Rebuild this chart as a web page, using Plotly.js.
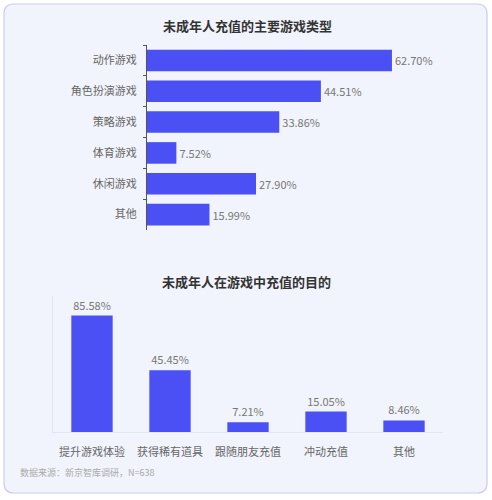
<!DOCTYPE html>
<html>
<head>
<meta charset="utf-8">
<script src="https://cdn.plot.ly/plotly-3.0.1.min.js"></script>
<style>
  body { margin: 0; background: #fff; }
  #chart { width: 492px; height: 500px; }
</style>
</head>
<body>
<div id="chart"></div>
<script>
// chart 1: game types
var typeNames = ["动作游戏", "角色扮演游戏", "策略游戏", "体育游戏", "休闲游戏", "其他"];
var typeValues = [62.70, 44.51, 33.86, 7.52, 27.90, 15.99];

// chart 2: purpose of top-up
var purposeNames = ["提升游戏体验", "获得稀有道具", "跟随朋友充值", "冲动充值", "其他"];
var purposeValues = [85.58, 45.45, 7.21, 15.05, 8.46];

var barColor = "#4a50f4";
var font = "Noto Sans CJK SC, Noto Sans, sans-serif";

var trace1 = {
    type: "bar",
    orientation: "h",
    x: typeValues,
    y: typeNames,
    width: 0.7,
    marker: { color: barColor },
    text: typeValues.map(v => v.toFixed(2) + "%"),
    textposition: "outside",
    textfont: { size: 11, color: "#777" },
    cliponaxis: false,
    hoverinfo: "none",
    xaxis: "x",
    yaxis: "y"
};

var trace2 = {
    type: "bar",
    x: purposeNames,
    y: purposeValues,
    width: 0.53,
    marker: { color: barColor },
    text: purposeValues.map(v => v.toFixed(2) + "%"),
    textposition: "outside",
    textfont: { size: 11, color: "#777" },
    cliponaxis: false,
    hoverinfo: "none",
    xaxis: "x2",
    yaxis: "y2"
};

var data = [trace1, trace2];

// card with rounded corners (paper coords, margins are 0 so 1px = 1/492 or 1/500)
var x0 = 4 / 492, x1 = 487 / 492, yTop = 1 - 4 / 500, yBot = 1 - 493 / 500;
var rx = 10 / 492, ry = 10 / 500;
var cardPath = "M " + (x0 + rx) + "," + yTop +
    " L " + (x1 - rx) + "," + yTop +
    " Q " + x1 + "," + yTop + " " + x1 + "," + (yTop - ry) +
    " L " + x1 + "," + (yBot + ry) +
    " Q " + x1 + "," + yBot + " " + (x1 - rx) + "," + yBot +
    " L " + (x0 + rx) + "," + yBot +
    " Q " + x0 + "," + yBot + " " + x0 + "," + (yBot + ry) +
    " L " + x0 + "," + (yTop - ry) +
    " Q " + x0 + "," + yTop + " " + (x0 + rx) + "," + yTop + " Z";

var layout = {
    width: 492,
    height: 500,
    margin: { l: 0, r: 0, t: 0, b: 0 },
    paper_bgcolor: "#ffffff",
    plot_bgcolor: "rgba(0,0,0,0)",
    showlegend: false,
    font: { family: font, size: 11, color: "#666" },
    shapes: [{
        type: "path",
        xref: "paper",
        yref: "paper",
        path: cardPath,
        fillcolor: "#f1f4fc",
        line: { color: "#c9ccef", width: 1.2 },
        layer: "below"
    }],
    xaxis: {
        domain: [147 / 492, 440 / 492],
        range: [0, 75],
        visible: false,
        fixedrange: true
    },
    yaxis: {
        domain: [1 - 230 / 500, 1 - 45 / 500],
        autorange: "reversed",
        showline: true,
        linecolor: "#555",
        linewidth: 1,
        ticks: "outside",
        tickson: "boundaries",
        ticklen: 3,
        tickcolor: "#555",
        showgrid: false,
        ticklabelstandoff: 7,
        tickfont: { size: 11, color: "#666" },
        fixedrange: true
    },
    xaxis2: {
        domain: [53 / 492, 443 / 492],
        anchor: "y2",
        showline: true,
        linecolor: "#e3e5ef",
        showgrid: false,
        ticks: "",
        ticklabelstandoff: 10,
        tickfont: { size: 11, color: "#666" },
        fixedrange: true
    },
    yaxis2: {
        domain: [1 - 432 / 500, 1 - 296 / 500],
        anchor: "x2",
        range: [0, 100],
        showline: true,
        linecolor: "#e3e5ef",
        showgrid: false,
        zeroline: false,
        showticklabels: false,
        ticks: "",
        fixedrange: true
    },
    annotations: [
        {
            text: "<b>未成年人充值的主要游戏类型</b>",
            xref: "paper", yref: "paper",
            x: 248 / 492, y: 1 - 25 / 500,
            xanchor: "center", yanchor: "middle",
            showarrow: false,
            font: { size: 13, color: "#333" }
        },
        {
            text: "<b>未成年人在游戏中充值的目的</b>",
            xref: "paper", yref: "paper",
            x: 246 / 492, y: 1 - 281 / 500,
            xanchor: "center", yanchor: "middle",
            showarrow: false,
            font: { size: 13, color: "#333" }
        },
        {
            text: "数据来源：新京智库调研，N=638",
            xref: "paper", yref: "paper",
            x: 18 / 492, y: 1 - 472 / 500,
            xanchor: "left", yanchor: "middle",
            showarrow: false,
            font: { size: 9, color: "#aaa" }
        }
    ]
};

Plotly.newPlot("chart", data, layout, { displayModeBar: false, staticPlot: true });
</script>
</body>
</html>
